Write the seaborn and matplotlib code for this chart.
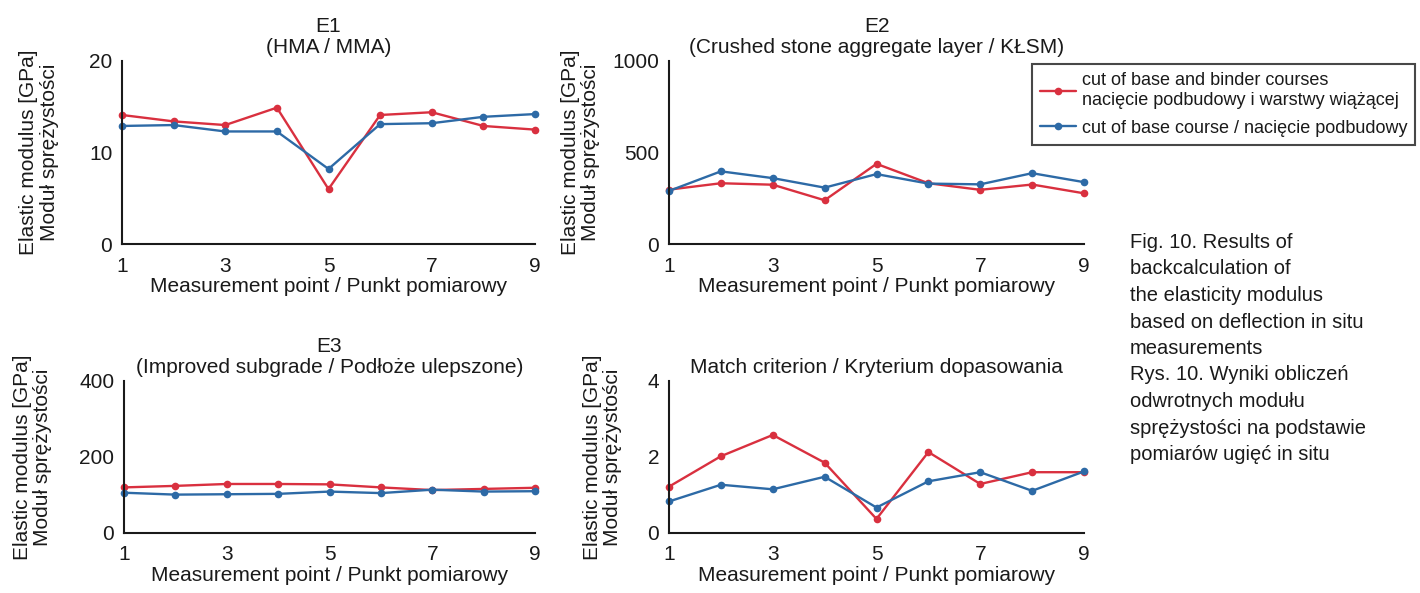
import matplotlib
matplotlib.use("Agg")
import matplotlib.pyplot as plt
import seaborn as sns
import pandas as pd

# Measurement points along the test section
points = [1, 2, 3, 4, 5, 6, 7, 8, 9]

# Back-calculated moduli, cut of base and binder courses
e1_binder = [14.1, 13.4, 13.0, 14.9, 6.0, 14.1, 14.4, 12.9, 12.5]
e2_binder = [297, 332, 324, 239, 438, 332, 296, 325, 277]
e3_binder = [120, 124, 129, 129, 128, 120, 113, 116, 119]
match_binder = [1.22, 2.02, 2.58, 1.85, 0.37, 2.13, 1.29, 1.60, 1.60]

# Back-calculated moduli, cut of base course only
e1_base = [12.9, 13.0, 12.3, 12.3, 8.2, 13.1, 13.2, 13.9, 14.2]
e2_base = [290, 397, 360, 308, 382, 330, 326, 387, 338]
e3_base = [106, 101, 102, 103, 109, 105, 114, 109, 110]
match_base = [0.83, 1.27, 1.15, 1.48, 0.67, 1.36, 1.60, 1.11, 1.62]

series_names = [
    "cut of base and binder courses\nnacięcie podbudowy i warstwy wiążącej",
    "cut of base course / nacięcie podbudowy",
]
panel_titles = [
    "E1\n(HMA / MMA)",
    "E2\n(Crushed stone aggregate layer / KŁSM)",
    "E3\n(Improved subgrade / Podłoże ulepszone)",
    "Match criterion / Kryterium dopasowania",
]
y_limits = [20, 1000, 400, 4]
y_ticks = [[0, 10, 20], [0, 500, 1000], [0, 200, 400], [0, 2, 4]]
x_ticks = [1, 3, 5, 7, 9]
x_label = "Measurement point / Punkt pomiarowy"
y_label = "Elastic modulus [GPa]\nModuł sprężystości"
caption = ("Fig. 10. Results of\nbackcalculation of\nthe elasticity modulus\n"
           "based on deflection in situ\nmeasurements\n"
           "Rys. 10. Wyniki obliczeń\nodwrotnych modułu\n"
           "sprężystości na podstawie\npomiarów ugięć in situ")

sns.set_theme(style="white")
plt.rcParams["font.family"] = ["Liberation Sans", "DejaVu Sans"]
plt.rcParams["text.color"] = "#1a1a1a"
plt.rcParams["axes.labelcolor"] = "#1a1a1a"
plt.rcParams["xtick.color"] = "#1a1a1a"
plt.rcParams["ytick.color"] = "#1a1a1a"

palette = {series_names[0]: "#d9303f", series_names[1]: "#2d6aa6"}

fig = plt.figure(figsize=(14.2, 5.93), dpi=100)
W, H = 1420, 593

def box(l, t, r, b):
    return [l / W, 1 - b / H, (r - l) / W, (b - t) / H]

axes_boxes = [
    box(122, 61, 535, 244),
    box(669, 61, 1084, 244),
    box(124, 381, 535, 533),
    box(669, 381, 1084, 533),
]
ylabel_offsets = [-0.153, -0.166, -0.175, -0.113]

panels = [
    (e1_binder, e1_base),
    (e2_binder, e2_base),
    (e3_binder, e3_base),
    (match_binder, match_base),
]

fs = 15
for i, (binder, base) in enumerate(panels):
    ax = fig.add_axes(axes_boxes[i])
    df = pd.DataFrame({
        "point": points * 2,
        "value": binder + base,
        "series": [series_names[0]] * len(points) + [series_names[1]] * len(points),
    })
    sns.lineplot(data=df, x="point", y="value", hue="series",
                 hue_order=series_names, palette=palette, marker="o",
                 markersize=5.5, markeredgewidth=0, linewidth=1.7,
                 ax=ax, legend=False, clip_on=False)
    ax.set_xlim(1, 9)
    ax.set_ylim(0, y_limits[i])
    ax.set_xticks(x_ticks)
    ax.set_yticks(y_ticks[i])
    ax.tick_params(direction="in", length=4, width=1.3, labelsize=fs)
    ax.tick_params(axis="x", pad=9)
    ax.tick_params(axis="y", pad=7)
    for side in ("top", "right"):
        ax.spines[side].set_visible(False)
    for side in ("left", "bottom"):
        ax.spines[side].set_color("#1a1a1a")
        ax.spines[side].set_linewidth(1.5)
    ax.set_xlabel(x_label, fontsize=fs, labelpad=1)
    ax.set_ylabel(y_label, fontsize=fs, linespacing=1.1)
    ax.yaxis.set_label_coords(ylabel_offsets[i], 0.5)
    ax.set_title(panel_titles[i], fontsize=fs, pad=6, linespacing=1.1)
    if i == 0:
        handles = ax.get_lines()[:2]

leg = fig.legend(handles, series_names, loc="upper left",
                 bbox_to_anchor=(1032 / W, 1 - 64 / H), fontsize=13,
                 frameon=True, fancybox=False, edgecolor="#1a1a1a",
                 handlelength=2.0, handletextpad=0.3, labelspacing=0.6,
                 borderpad=0.45, borderaxespad=0)
leg.get_frame().set_linewidth(1.5)

fig.text(1130 / W, 1 - 233 / H, caption, ha="left", va="top",
         fontsize=14.5, linespacing=1.5, color="#1a1a1a")

fig.savefig("out.png", dpi=100, facecolor="white")
